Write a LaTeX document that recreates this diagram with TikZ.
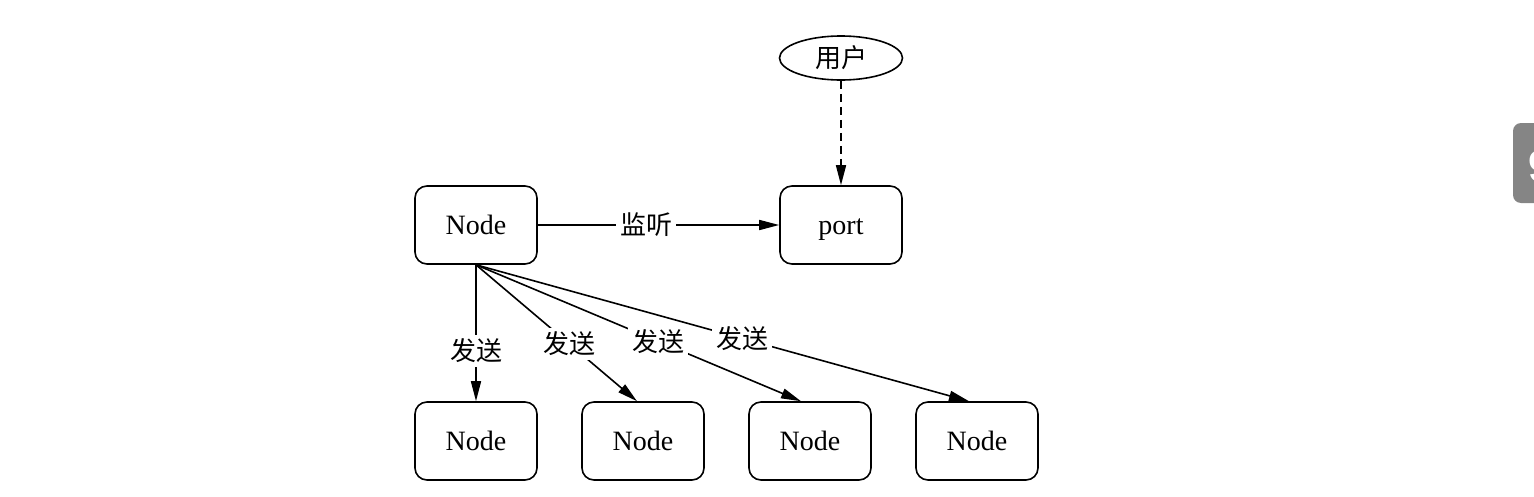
\documentclass[tikz,border=0pt]{standalone}
\usepackage{fontspec}
\setmainfont{Liberation Serif}
\newfontfamily\cjk{Noto Sans CJK SC}
\newfontfamily\tabfont{Liberation Sans}
\usetikzlibrary{arrows.meta,shapes.geometric,calc}
\definecolor{tabgrey}{HTML}{858585}
\begin{document}
\begin{tikzpicture}[x=1pt,y=-1pt,
  box/.style={draw,rounded corners=12pt,minimum width=122pt,minimum height=78pt,line width=1.6pt,inner sep=0pt,text height=19pt,text depth=0pt,font=\fontsize{28}{32}\selectfont},
  lbl/.style={fill=white,inner sep=4pt,font=\cjk\fontsize{26}{30}\selectfont},
  conn/.style={line width=1.6pt,-{Triangle[length=20pt,width=10pt]}}]
\useasboundingbox (0,0) rectangle (1534,496);
\node[box] (n0) at (476,225) {Node};
\node[box] (port) at (841,225) {port};
\node[draw,ellipse,line width=1.6pt,minimum width=123pt,minimum height=44pt,inner sep=0pt,font=\cjk\fontsize{26}{30}\selectfont] (user) at (841,58) {用户};
\node[box] (b1) at (476,441) {Node};
\node[box] (b2) at (643,441) {Node};
\node[box] (b3) at (810,441) {Node};
\node[box] (b4) at (977,441) {Node};
\draw[conn,dash pattern=on 8pt off 5pt] (user) -- (port);
\draw[conn] (n0) -- node[lbl,pos=0.45]{监听} (port);
\draw[conn] (n0.south) -- node[lbl,pos=0.63]{发送} (b1.north);
\coordinate (t2) at ($(b2.north)+(-6,0)$);
\coordinate (t3) at ($(b3.north)+(-9,0)$);
\coordinate (t4) at ($(b4.north)+(-8,0)$);
\draw[conn] (n0.south) -- node[lbl,pos=0.58]{发送} (t2);
\draw[conn] (n0.south) -- node[lbl,pos=0.56]{发送} (t3);
\draw[conn] (n0.south) -- node[lbl,pos=0.54]{发送} (t4);
\begin{scope}
\clip (0,0) rectangle (1534,496);
\fill[tabgrey,rounded corners=8pt] (1513,123) rectangle (1575,203);
\node[text=white,font=\tabfont\bfseries\fontsize{44}{44}\selectfont] (tab) at (1541,166) {9};
\end{scope}
\end{tikzpicture}
\end{document}
